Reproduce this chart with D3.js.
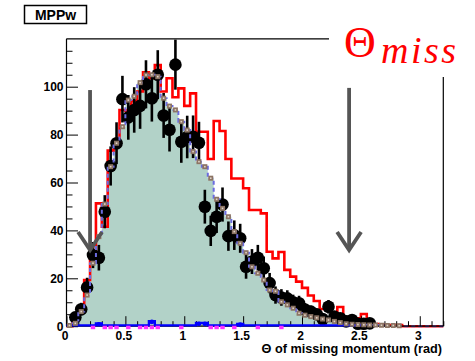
<!DOCTYPE html>
<html><head><meta charset="utf-8">
<script src="https://cdn.jsdelivr.net/npm/d3@7"></script>
<style>body{margin:0;background:#fff}svg{display:block}</style>
</head><body><svg id="c" width="475" height="361"></svg>
<script>
// ---------- data ----------
const binWidth = 0.05;
const xRange = [0, 3.2];
const yRange = [0, 120];
const xTicks = [0, 0.5, 1, 1.5, 2, 2.5, 3];
const xTickLabels = ["0", "0.5", "1", "1.5", "2", "2.5", "3"];
const yTicks = [0, 20, 40, 60, 80, 100];
const yTickLabels = ["0", "20", "40", "60", "80", "100"];
const xTitle = "\u0398 of missing momentum (rad)";
const boxLabel = "MPPw";

// MC (filled) histogram, per bin of 0.05 rad
const mcVals = [0.3, 1.2, 6.1, 13, 26.3, 37.4, 51, 66.6, 76.4, 83.3,
  94.4, 96, 101.7, 104.9, 105, 104.2, 95.2, 91.9, 90.3, 85.4,
  81.9, 72.9, 68.7, 66.6, 61.8, 53, 49.2, 45.7, 39.5, 34.6,
  30.7, 24.8, 22.1, 19.3, 15.1, 14.6, 10.2, 8.9, 7.5, 5.4,
  4.6, 4, 3.5, 3, 2.6, 2, 1.5, 1, 0.8, 0.7,
  0.6, 0.5, 0.5, 0.4, 0.3, 0.3, 0.2, 0, 0, 0,
  0, 0, 0, 0];
// red histogram
const redVals = [0, 4.7, 7.9, 19.3, 28.3, 51.3, 41.5, 73.3, 76.6, 90.3,
  90, 94, 98, 106, 103.5, 109, 98, 103.5, 95.6, 99.3,
  92, 97.2, 81.2, 81.2, 69.8, 85.7, 81.5, 69.8, 61.7, 61.7,
  57.6, 48.5, 48.5, 47.1, 31.1, 28.3, 31, 23.5, 20.7, 18.6,
  16, 12.8, 10.5, 7.2, 7.5, 3.3, 8, 3.3, 3.3, 3.3,
  5.1, 0.9, 0.9, 0.5, 0.5, 0.5, 0.5, 0, 0, 0,
  0, 0, 0, 0];
// data points (null = empty bin)
const dataVals = [null, 3.7, 7.1, 16.2, 29.7, 28.6, 47.8, 66.9, 76.4, 94.8,
  87.2, 90.3, 92, 101, 95.2, 105, 88, 82, 109.2, 77,
  79, 79.1, 76.6, 49.9, 39.8, 45.7, 50.8, 37.6, 38, 36.7,
  24.8, 27, 28.6, 24.2, 18, 13, 12, 11.6, 10, 9.6,
  7, 6.1, 5, 3, 8.1, 4, 3.3, 2, 2.6, 1,
  1, 1.2, null, null, null, null, null, null, null, null,
  null, null, null, null];
// small blue histogram near zero (null = not drawn)
const blueVals = [0, 0, 0, 0, 0, 0.8, 0, 0, 0, 0,
  0, 0, 0, 0, 1.8, 0, 0, 0, 0, 0,
  0, 0, 1, 1, 0, 0, 0, 0, 0, 0.6,
  0, 0, 0, 0, 0, 0, 0, 0, 0, 0,
  0, 0, 0, 0, 0, 0, 0, 0, 0, 0,
  null, null, null, null, null, null, null, null, null, null,
  null, null, null, null];
// bins holding zero-valued magenta markers
const magentaBins = [4, 6, 7, 8, 10, 12, 13, 14, 15, 19, 24, 25, 26, 28, 32, 36];
// cut arrows (x in rad, y from/to in counts)
const cutArrows = [{x: 0.2, from: 98.6, to: 31.8}, {x: 2.4, from: 99.5, to: 31.8}];

// ---------- drawing ----------
const svg = d3.select("#c");
const L = 66.5, R = 443.3, T = 38.8, B = 326.2;
const x = d3.scaleLinear().domain(xRange).range([L, R]);
const y = d3.scaleLinear().domain(yRange).range([B, T]);
const font = "'Liberation Sans', Arial, sans-serif";

function stepPts(vals) {
  const p = [[0, 0]];
  vals.forEach((v, i) => { p.push([i * binWidth, v]); p.push([(i + 1) * binWidth, v]); });
  p.push([vals.length * binWidth, 0]);
  return p;
}
const lineGen = d3.line().x(d => x(d[0])).y(d => y(d[1]));

// filled MC
const area = d3.area().x(d => x(d[0])).y0(y(0)).y1(d => y(d[1]));
svg.append("path").attr("d", area(stepPts(mcVals))).attr("fill", "#b2d2c8");

// red histogram
svg.append("path").attr("d", lineGen(stepPts(redVals)))
  .attr("fill", "none").attr("stroke", "#ff0000").attr("stroke-width", 2.6)
  .attr("stroke-linejoin", "miter");

// data points
const ctr = i => x((i + 0.5) * binWidth);
const pts = dataVals.map((v, i) => ({i, v})).filter(d => d.v !== null);
svg.append("g").selectAll("line").data(pts).join("line")
  .attr("x1", d => ctr(d.i)).attr("x2", d => ctr(d.i))
  .attr("y1", d => y(d.v + Math.sqrt(d.v))).attr("y2", d => y(Math.max(0, d.v - Math.sqrt(d.v))))
  .attr("stroke", "#000").attr("stroke-width", 2.6);
svg.append("g").selectAll("circle").data(pts).join("circle")
  .attr("cx", d => ctr(d.i)).attr("cy", d => y(d.v)).attr("r", 6.3).attr("fill", "#000");

// blue dashed MC outline
svg.append("path").attr("d", lineGen(stepPts(mcVals).slice(1, -1)))
  .attr("fill", "none").attr("stroke", "#6b6be0").attr("stroke-width", 2)
  .attr("stroke-dasharray", "4,3");

// axes
svg.append("g").attr("transform", `translate(${L},0)`)
  .call(d3.axisLeft(y).tickValues(yTicks).tickFormat((d, i) => yTickLabels[i])
    .tickSize(-11.5).tickSizeOuter(0).tickPadding(3));
svg.append("g").attr("transform", `translate(${L},0)`)
  .call(d3.axisLeft(y).tickValues(d3.range(0, 121, 5).filter(v => v % 20 !== 0))
    .tickSize(-6).tickSizeOuter(0).tickFormat(""));
const xAx = svg.append("g").attr("transform", `translate(0,${B})`)
  .call(d3.axisBottom(x).tickValues(xTicks).tickFormat((d, i) => xTickLabels[i])
    .tickSize(-10).tickSizeOuter(0).tickPadding(5));
svg.append("g").attr("transform", `translate(0,${B})`)
  .call(d3.axisBottom(x).tickValues(d3.range(1, 33).map(v => v / 10).filter(v => Math.abs(v * 2 - Math.round(v * 2)) > 1e-6))
    .tickSize(-5).tickSizeOuter(0).tickFormat(""));
svg.selectAll(".domain").remove();
svg.selectAll(".tick line").attr("stroke", "#000").attr("stroke-width", 1);
svg.selectAll(".tick text").attr("font-family", font).attr("font-weight", "bold")
  .attr("font-size", 12).attr("fill", "#000");
xAx.selectAll(".tick text").attr("dx", -2);

// frame
const fr = svg.append("g").attr("stroke", "#000").attr("stroke-width", 1.2);
fr.append("line").attr("x1", L).attr("x2", L).attr("y1", T).attr("y2", B);
fr.append("line").attr("x1", L).attr("x2", R).attr("y1", B).attr("y2", B);
fr.append("line").attr("x1", L).attr("x2", 329).attr("y1", T).attr("y2", T);
fr.append("line").attr("x1", R).attr("x2", R).attr("y1", 77).attr("y2", B);

// blue histogram near zero
const bLine = d3.line().defined(d => d[1] !== null).x(d => x(d[0])).y(d => y(d[1]) - 0.8);
svg.append("path").attr("d", bLine(stepPts(blueVals).slice(1, -1)))
  .attr("fill", "none").attr("stroke", "#0000ff").attr("stroke-width", 2.4);
const bPts = blueVals.map((v, i) => ({i, v})).filter(d => d.v > 0);
svg.append("g").selectAll("circle").data(bPts).join("circle")
  .attr("cx", d => ctr(d.i)).attr("cy", d => y(d.v)).attr("r", 2.4).attr("fill", "#0000ff");

// magenta markers
svg.append("g").selectAll("rect").data(magentaBins).join("rect")
  .attr("x", d => ctr(d) - 2.2).attr("y", y(0) - 0.5).attr("width", 4.4).attr("height", 3.5)
  .attr("fill", "#ff33ff");

// brown MC markers
const mcPts = mcVals.map((v, i) => ({i, v})).filter(d => d.v > 0);
const bm = svg.append("g");
bm.selectAll("rect.b").data(mcPts).join("rect").attr("class", "b")
  .attr("x", d => ctr(d.i) - 2.5).attr("y", d => y(d.v) - 2.5)
  .attr("width", 5).attr("height", 5).attr("fill", "#8c7464");
bm.selectAll("rect.c").data(mcPts).join("rect").attr("class", "c")
  .attr("x", d => ctr(d.i) - 0.8).attr("y", d => y(d.v) - 0.8)
  .attr("width", 1.6).attr("height", 1.6).attr("fill", "#e0d4c8");

// arrows
const ag = svg.append("g").attr("stroke", "#555").attr("stroke-width", 3.8).attr("fill", "none");
cutArrows.forEach(a => {
  const ax = x(a.x), y1 = y(a.from), y2 = y(a.to);
  ag.append("line").attr("x1", ax).attr("x2", ax).attr("y1", y1).attr("y2", y2 - 1);
  ag.append("path").attr("d", `M${ax - 12},${y2 - 18}L${ax},${y2}L${ax + 12},${y2 - 18}`);
});

// x title
svg.append("text").attr("x", 442).attr("y", 352.5).attr("text-anchor", "end")
  .attr("font-family", font).attr("font-weight", "bold").attr("font-size", 12.7).text(xTitle);

// MPPw box
svg.append("rect").attr("x", 24.5).attr("y", 5.5).attr("width", 62).attr("height", 18)
  .attr("fill", "#fff").attr("stroke", "#000").attr("stroke-width", 1.5);
svg.append("text").attr("x", 55.5).attr("y", 19.5).attr("text-anchor", "middle")
  .attr("font-family", font).attr("font-weight", "bold").attr("font-size", 14).text(boxLabel);

// red title
const tt = svg.append("text").attr("fill", "#ff0000").attr("font-family", "'Liberation Serif', 'Times New Roman', serif");
tt.append("tspan").attr("x", 344).attr("y", 57).attr("font-size", 44).text("\u0398");
tt.append("tspan").attr("x", 381).attr("y", 63).attr("font-size", 38).attr("font-style", "italic")
  .attr("letter-spacing", 2.5).text("miss");
</script></body></html>
